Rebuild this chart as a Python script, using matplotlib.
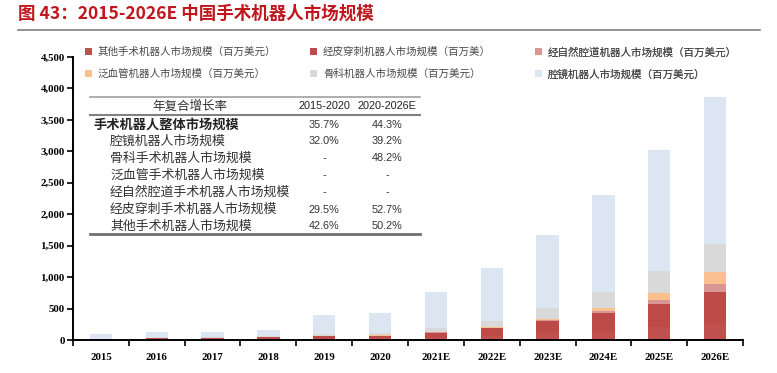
import matplotlib.pyplot as plt
from matplotlib.patches import Patch
from matplotlib.lines import Line2D
from matplotlib.ticker import FuncFormatter, FixedLocator

plt.rcParams['font.family'] = ['Noto Sans CJK SC', 'DejaVu Sans']

# 年份与各细分市场规模（百万美元），自下而上堆叠
years = ['2015', '2016', '2017', '2018', '2019', '2020',
         '2021E', '2022E', '2023E', '2024E', '2025E', '2026E']
other = [5, 7, 9, 13, 17, 26, 42, 66, 105, 150, 200, 265]
percutaneous = [13, 18, 26, 37, 43, 44, 74, 120, 197, 275, 368, 498]
natural_orifice = [0, 0, 0, 0, 0, 0, 4, 8, 12, 30, 73, 122]
vascular = [0, 0, 0, 0, 0, 3, 12, 12, 20, 60, 111, 190]
orthopedic = [0, 3, 5, 12, 35, 37, 58, 100, 170, 245, 350, 450]
laparoscopic = [82, 107, 90, 103, 300, 320, 570, 834, 1161, 1540, 1918, 2335]

series_names = ['其他手术机器人市场规模（百万美元）',
                '经皮穿刺机器人市场规模（百万美）',
                '经自然腔道机器人市场规模（百万美元）',
                '泛血管机器人市场规模（百万美元）',
                '骨科机器人市场规模（百万美元）',
                '腔镜机器人市场规模（百万美元）']
colors = ['#C0504D', '#BE4A47', '#D99694', '#FAC090', '#D9D9D9', '#DCE6F2']

# 年复合增长率表
cagr_header = ['年复合增长率', '2015-2020', '2020-2026E']
cagr_rows = ['手术机器人整体市场规模', '腔镜机器人市场规模', '骨科手术机器人市场规模',
             '泛血管手术机器人市场规模', '经自然腔道手术机器人市场规模',
             '经皮穿刺手术机器人市场规模', '其他手术机器人市场规模']
cagr_1520 = ['35.7%', '32.0%', '-', '-', '-', '29.5%', '42.6%']
cagr_2026 = ['44.3%', '39.2%', '48.2%', '-', '-', '52.7%', '50.2%']

W, H = 777, 373
fig = plt.figure(figsize=(W / 100, H / 100), dpi=100)


def fx(px):
    return px / W


def fy(py):
    return 1 - py / H


ax = fig.add_axes([fx(73), fy(340), fx(743) - fx(73), fy(57) - fy(340)])

x = list(range(len(years)))
bottom = [0] * len(years)
for vals, c in zip([other, percutaneous, natural_orifice, vascular, orthopedic, laparoscopic], colors):
    ax.bar(x, vals, width=0.4, bottom=bottom, color=c, linewidth=0)
    bottom = [a + v for a, v in zip(bottom, vals)]

ax.set_xlim(-0.5, len(years) - 0.5)
ax.set_ylim(0, 4500)
ax.set_yticks(range(0, 4501, 500))
ax.yaxis.set_major_formatter(FuncFormatter(lambda v, p: f'{int(v):,}'))
ax.set_xticks(x)
ax.set_xticklabels(years)
ax.xaxis.set_minor_locator(FixedLocator([i - 0.5 for i in range(len(years) + 1)]))
ax.tick_params(axis='x', which='major', length=0, pad=9)
ax.tick_params(axis='x', which='minor', length=4, width=1.2, direction='out')
ax.tick_params(axis='y', length=4, width=1.2, direction='out', pad=2)
for lab in ax.get_xticklabels() + ax.get_yticklabels():
    lab.set_fontfamily('Liberation Serif')
    lab.set_fontweight('bold')
    lab.set_fontsize(7.8)
for s in ['top', 'right']:
    ax.spines[s].set_visible(False)
for s in ['left', 'bottom']:
    ax.spines[s].set_linewidth(1.4)

# 图例：三列，每列两项
handles = [Patch(facecolor=c, edgecolor='none') for c in colors]
col_x = [87, 312, 537]
for col in range(3):
    idx = [col, col + 3]
    leg = ax.legend([handles[i] for i in idx], [series_names[i] for i in idx],
                    loc='upper left', bbox_to_anchor=(fx(col_x[col] - 2), fy(47)),
                    bbox_transform=fig.transFigure, frameon=False, fontsize=7.6,
                    handlelength=0.7, handleheight=0.7, handletextpad=0.5,
                    labelspacing=1.1, borderpad=0, borderaxespad=0, labelcolor='#4A4A4A')
    ax.add_artist(leg)

# 标题与分隔线
fig.text(fx(18), fy(14), '图 43：2015-2026E 中国手术机器人市场规模', fontsize=12.6,
         fontweight='bold', color='#C0161E', va='center', ha='left')
fig.add_artist(Line2D([fx(18), fx(760)], [fy(30), fy(30)], color='#808080', lw=1.2))

# 年复合增长率表
t_left, t_right = 90, 420
fig.add_artist(Line2D([fx(t_left), fx(t_right)], [fy(97), fy(97)], color='#A0A0A0', lw=1.2))
fig.add_artist(Line2D([fx(t_left), fx(t_right)], [fy(115), fy(115)], color='#808080', lw=1.5))
fig.add_artist(Line2D([fx(t_left), fx(t_right)], [fy(234), fy(234)], color='#707070', lw=2))

fig.text(fx(190), fy(106), cagr_header[0], fontsize=9, color='#333333', ha='center', va='center')
fig.text(fx(324), fy(106), cagr_header[1], fontsize=7.8, family='Liberation Sans',
         color='#222222', ha='center', va='center')
fig.text(fx(387), fy(106), cagr_header[2], fontsize=7.8, family='Liberation Sans',
         color='#222222', ha='center', va='center')
for i, name in enumerate(cagr_rows):
    y = 124.5 + i * 17
    if i == 0:
        fig.text(fx(93), fy(y), name, fontsize=9.5, fontweight='bold', color='#222222',
                 ha='left', va='center')
    else:
        fig.text(fx(110), fy(y), name, fontsize=9.3, color='#333333', ha='left', va='center')
    fig.text(fx(324), fy(y), cagr_1520[i], fontsize=7.8, family='Liberation Sans',
             color='#333333', ha='center', va='center')
    fig.text(fx(387), fy(y), cagr_2026[i], fontsize=7.8, family='Liberation Sans',
             color='#333333', ha='center', va='center')

plt.savefig('out.png', dpi=100)
plt.close()
